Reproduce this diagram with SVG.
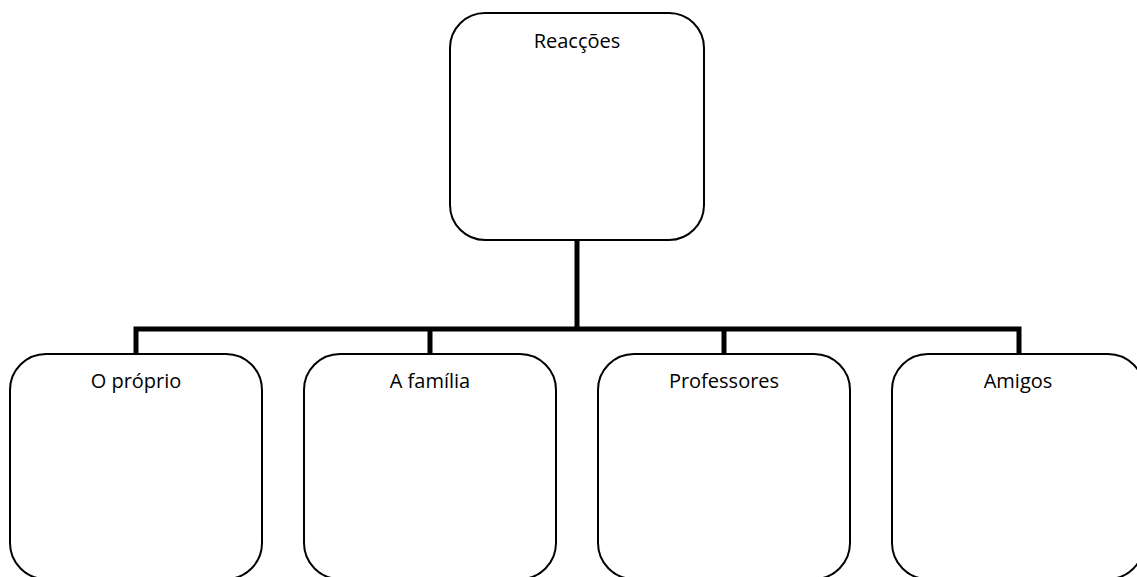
<svg xmlns="http://www.w3.org/2000/svg" width="1137" height="577" viewBox="0 0 1137 577">
  <style>
    .box { fill: #ffffff; stroke: #000000; stroke-width: 2; }
    .label { font-family: "Open Sans", "Liberation Sans", sans-serif; font-size: 20px; fill: #000000; text-anchor: middle; }
    .link { fill: none; stroke: #000000; stroke-width: 5; stroke-linejoin: miter; stroke-linecap: butt; }
  </style>
  <rect width="1137" height="577" fill="#ffffff"/>

  <!-- tree connectors -->
  <g id="connectors">
    <path class="link" d="M577 240 V329"/>
    <path class="link" d="M136 354 V329 H1019 V354"/>
    <path class="link" d="M430 329 V354"/>
    <path class="link" d="M724 329 V354"/>
  </g>

  <g id="node-reaccoes">
    <rect class="box" x="450" y="13" width="254" height="227" rx="35" ry="35"/>
    <text class="label" x="577" y="48">Reacções</text>
  </g>

  <g id="node-proprio">
    <rect class="box" x="10" y="354" width="252" height="225" rx="36" ry="36"/>
    <text class="label" x="136" y="388">O próprio</text>
  </g>

  <g id="node-familia">
    <rect class="box" x="304" y="354" width="252" height="225" rx="36" ry="36"/>
    <text class="label" x="430" y="388">A família</text>
  </g>

  <g id="node-professores">
    <rect class="box" x="598" y="354" width="252" height="225" rx="36" ry="36"/>
    <text class="label" x="724" y="388">Professores</text>
  </g>

  <g id="node-amigos">
    <rect class="box" x="892" y="354" width="252" height="225" rx="36" ry="36"/>
    <text class="label" x="1018" y="388">Amigos</text>
  </g>
</svg>
